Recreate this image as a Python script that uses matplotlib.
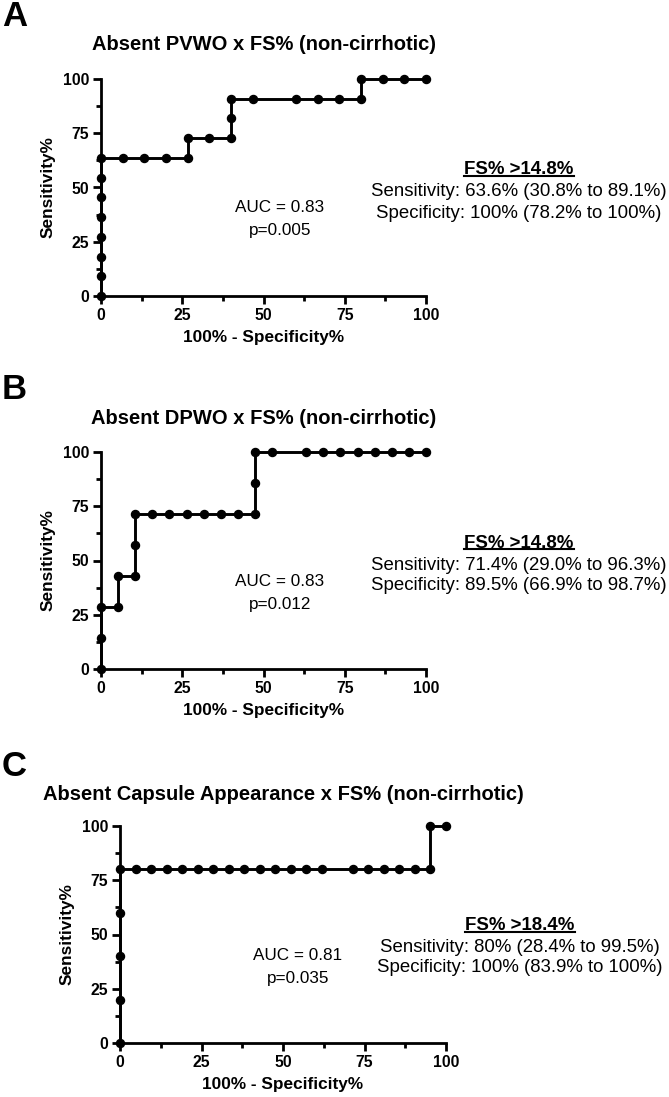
import matplotlib
matplotlib.use('Agg')
import matplotlib.pyplot as plt
from matplotlib.lines import Line2D
from matplotlib.ticker import MultipleLocator

plt.rcParams['font.family'] = ['Liberation Sans', 'DejaVu Sans']

# ROC points, 100% - specificity% (x) vs sensitivity% (y)
fpr_a = [0, 0, 0, 0, 0, 0, 0, 0, 6.67, 13.33, 20, 26.67, 26.67, 33.33, 40, 40, 40,
         46.67, 60, 66.67, 73.33, 80, 80, 86.67, 93.33, 100]
sens_a = [0, 9.09, 18.18, 27.27, 36.36, 45.45, 54.55, 63.64, 63.64, 63.64, 63.64, 63.64,
          72.73, 72.73, 72.73, 81.82, 90.91, 90.91, 90.91, 90.91, 90.91, 90.91,
          100, 100, 100, 100]

fpr_b = [0, 0, 0, 5.26, 5.26, 10.53, 10.53, 10.53, 15.79, 21.05, 26.32, 31.58, 36.84,
         42.11, 47.37, 47.37, 47.37, 52.63, 63.16, 68.42, 73.68, 78.95, 84.21, 89.47,
         94.74, 100]
sens_b = [0, 14.29, 28.57, 28.57, 42.86, 42.86, 57.14, 71.43, 71.43, 71.43, 71.43, 71.43,
          71.43, 71.43, 71.43, 85.71, 100, 100, 100, 100, 100, 100, 100, 100, 100, 100]

fpr_c = [0, 0, 0, 0, 0, 4.76, 9.52, 14.29, 19.05, 23.81, 28.57, 33.33, 38.10, 42.86,
         47.62, 52.38, 57.14, 61.90, 71.43, 76.19, 80.95, 85.71, 90.48, 95.24, 95.24, 100]
sens_c = [0, 20, 40, 60, 80, 80, 80, 80, 80, 80, 80, 80, 80, 80, 80, 80, 80, 80,
          80, 80, 80, 80, 80, 80, 100, 100]

letters = ['A', 'B', 'C']
titles = ['Absent PVWO x FS% (non-cirrhotic)',
          'Absent DPWO x FS% (non-cirrhotic)',
          'Absent Capsule Appearance x FS% (non-cirrhotic)']
auc_labels = ['AUC = 0.83', 'AUC = 0.83', 'AUC = 0.81']
p_labels = ['p=0.005', 'p=0.012', 'p=0.035']
cutoffs = ['FS% >14.8%', 'FS% >14.8%', 'FS% >18.4%']
sens_txt = ['Sensitivity: 63.6% (30.8% to 89.1%)',
            'Sensitivity: 71.4% (29.0% to 96.3%)',
            'Sensitivity: 80% (28.4% to 99.5%)']
spec_txt = ['Specificity: 100% (78.2% to 100%)',
            'Specificity: 89.5% (66.9% to 98.7%)',
            'Specificity: 100% (83.9% to 100%)']

W, H = 669, 1097
fig = plt.figure(figsize=(W / 100, H / 100), dpi=100)

# axes boxes in pixels: left, top, right, bottom
boxes = [(101, 79, 426, 296), (101, 452, 426, 669), (120, 826, 446, 1043)]
letter_y = [17, 390, 766]
title_y = [45, 418, 795]
block_x = [519, 519, 520]
block_dy = [(91, 113, 134), (91, 113, 134), (100, 121, 142)]
auc_x = [280, 280, 298]


def px(x, y):
    return x / W, 1 - y / H


headers = []
series = [(fpr_a, sens_a), (fpr_b, sens_b), (fpr_c, sens_c)]
for i, (fpr, sens) in enumerate(series):
    l, t, r, b = boxes[i]
    ax = fig.add_axes([l / W, 1 - b / H, (r - l) / W, (b - t) / H])
    ax.plot(fpr, sens, '-o', color='black', lw=2.1, ms=5.8, clip_on=False, zorder=3)
    ax.set_xlim(0, 100)
    ax.set_ylim(0, 100)
    for s in ['top', 'right']:
        ax.spines[s].set_visible(False)
    for s in ['left', 'bottom']:
        ax.spines[s].set_linewidth(2)
        ax.spines[s].set_capstyle('projecting')
    ax.xaxis.set_major_locator(MultipleLocator(25))
    ax.yaxis.set_major_locator(MultipleLocator(25))
    ax.xaxis.set_minor_locator(MultipleLocator(12.5))
    ax.yaxis.set_minor_locator(MultipleLocator(12.5))
    ax.tick_params(which='major', length=6, width=2, labelsize=11.3, pad=2.5)
    ax.tick_params(which='minor', length=3.5, width=2)
    for lbl in ax.get_xticklabels() + ax.get_yticklabels():
        lbl.set_fontweight('bold')
    ax.set_xlabel('100% - Specificity%', fontsize=12.4, fontweight='bold', labelpad=5)
    ax.set_ylabel('Sensitivity%', fontsize=12.4, fontweight='bold', labelpad=5)

    fig.text(*px(2, letter_y[i]), letters[i], fontsize=25, fontweight='bold',
             ha='left', va='center')
    fig.text(*px((l + r) / 2, title_y[i]), titles[i], fontsize=14.5, fontweight='bold',
             ha='center', va='center')

    fig.text(*px(auc_x[i], t + 129), auc_labels[i], fontsize=12.3, ha='center', va='center')
    fig.text(*px(auc_x[i], t + 152), p_labels[i], fontsize=12.3, ha='center', va='center')

    d0, d1, d2 = block_dy[i]
    h = fig.text(*px(block_x[i], t + d0), cutoffs[i], fontsize=13.4, fontweight='bold',
                 ha='center', va='center')
    headers.append(h)
    fig.text(*px(block_x[i], t + d1), sens_txt[i], fontsize=13.4, ha='center', va='center')
    fig.text(*px(block_x[i], t + d2), spec_txt[i], fontsize=13.4, ha='center', va='center')

# underline the cut-off headers
fig.canvas.draw()
renderer = fig.canvas.get_renderer()
inv = fig.transFigure.inverted()
for h in headers:
    bb = h.get_window_extent(renderer)
    yl = bb.y0 + 2.5
    p0 = inv.transform((bb.x0, yl))
    p1 = inv.transform((bb.x1, yl))
    fig.add_artist(Line2D([p0[0], p1[0]], [p0[1], p1[1]], color='black', lw=1.5,
                          transform=fig.transFigure))

fig.savefig('out.png', dpi=100)
